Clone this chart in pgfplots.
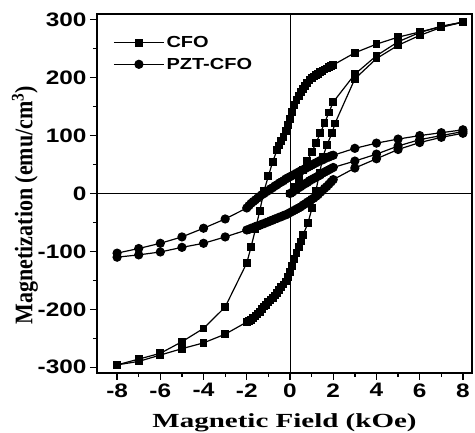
\documentclass[border=0pt]{standalone}
\usepackage{graphicx}
\usepackage{pgfplots}
\pgfplotsset{compat=1.18}
\usepackage{fontspec}
\setmainfont{Liberation Serif}
\newfontfamily\sansw{Liberation Sans}[FakeStretch=1.25]
\newfontfamily\serifw{Liberation Serif}[FakeStretch=1.45]

\begin{document}
\begin{tikzpicture}
\begin{axis}[
  scale only axis, width=375pt, height=359pt,
  xmin=-8.93, xmax=8.42, ymin=-310, ymax=310,
  axis line style={line width=1.5pt},
  xtick={-8,-6,...,8}, ytick={-300,-200,...,300},
  minor x tick num=1, minor y tick num=1,
  xtick pos=bottom, ytick pos=left, tick align=outside,
  major tick length=7pt, minor tick length=4pt,
  every tick/.style={black, line width=1.3pt},
  /pgf/number format/assume math mode=true,
  ticklabel style={font=\fontsize{19.5}{20}\selectfont\sansw\bfseries},
  xlabel={Magnetic Field (kOe)},
  xlabel style={font=\fontsize{20}{20}\selectfont\serifw\bfseries,
    at={(axis description cs:0.5,-0.153)}, anchor=base},
  ylabel={\scalebox{1}[1.15]{Magnetization (emu/cm\textsuperscript{3})}},
  ylabel style={font=\fontsize{22}{22}\selectfont\bfseries,
    at={(axis description cs:-0.192,0.468)}, anchor=center},
  legend style={draw=none, fill=none, at={(axis description cs:0.043,0.944)},
    anchor=north west, inner sep=0pt, row sep=5pt,
    font=\fontsize{16}{16}\selectfont\sansw\bfseries},
  legend cell align=left,
  legend image code/.code={\draw[mark repeat=2,mark phase=2,#1]
    plot coordinates {(0pt,0pt) (25pt,0pt) (50pt,0pt)};},
  sq/.style={black, line width=1.2pt, mark=square*, mark size=3.3pt, mark options={solid}},
  ci/.style={black, line width=1.2pt, mark=*, mark size=4pt, mark options={solid}},
]
\draw[line width=0.9pt] (axis cs:0,-310) -- (axis cs:0,310);
\draw[line width=0.9pt] (axis cs:-8.93,0) -- (axis cs:8.42,0);

% CFO, descending branch
\addplot[sq] coordinates {
 (8,296)(7,288)(6,279)(5,270)(4,258)(3,243)(2,222)
 (1.9,220)(1.8,218)(1.7,216)(1.6,214)(1.5,212)(1.4,210)(1.3,207)(1.2,205)(1.1,202)
 (1.0,199)(0.9,196)(0.8,191)(0.7,186)(0.6,180)(0.5,175)(0.4,169)(0.3,162)(0.2,153)
 (0.1,141)(0,128)(-0.1,118)(-0.2,108)(-0.3,98)(-0.4,91)(-0.5,83)(-0.6,75)
 (-0.8,55)(-1.0,30)(-1.2,5)(-1.4,-30)(-1.6,-62)(-1.8,-92)(-2.0,-120)
 (-3,-196)(-4,-233)(-5,-256)(-6,-276)(-7,-286)(-8,-296)};
% PZT-CFO, descending branch
\addplot[ci] coordinates {
 (8,110)(7,105)(6,100)(5,94)(4,87)(3,78)(2,66)
 (1.9,65)(1.8,63)(1.7,62)(1.6,60)(1.5,58)(1.4,57)(1.3,55)(1.2,53)(1.1,51)(1.0,49)
 (0.9,47)(0.8,45)(0.7,43)(0.6,41)(0.5,39)(0.4,37)(0.3,35)(0.2,33)(0.1,31)(0,29)
 (-0.1,27)(-0.2,25)(-0.3,22)(-0.4,20)(-0.5,18)(-0.6,15)(-0.7,13)(-0.8,10)(-0.9,8)
 (-1.0,5)(-1.1,3)(-1.2,0)(-1.3,-2)(-1.4,-5)(-1.5,-8)(-1.6,-11)(-1.7,-14)(-1.8,-17)
 (-1.9,-21)(-2.0,-25)(-3,-44)(-4,-60)(-5,-75)(-6,-86)(-7,-95)(-8,-103)};
\legend{CFO, PZT-CFO}

% CFO, ascending branch
\addplot[sq, forget plot] coordinates {
 (-8,-296)(-7,-290)(-6,-279)(-5,-268)(-4,-258)(-3,-243)(-2,-222)
 (-1.9,-220)(-1.8,-218)(-1.7,-215)(-1.6,-212)(-1.5,-208)(-1.4,-204)(-1.3,-199)
 (-1.2,-195)(-1.1,-192)(-1.0,-188)(-0.9,-184)(-0.8,-180)(-0.7,-176)(-0.6,-172)
 (-0.5,-167)(-0.4,-162)(-0.3,-157)(-0.2,-152)(-0.1,-144)(0,-136)(0.1,-125)
 (0.2,-113)(0.3,-103)(0.4,-93)(0.5,-83)(0.6,-72)
 (0.83,-51)(1.02,-25)(1.2,5)(1.37,36)(1.53,64)(1.71,84)(1.94,104)(2.08,121)
 (3,198)(4,233)(5,256)(6,273)(7,287)(8,296)};
% CFO, initial curve
\addplot[sq, forget plot] coordinates {
 (0,0)(0.2,12)(0.4,25)(0.6,40)(0.8,56)(1.0,71)(1.2,87)(1.4,104)(1.6,122)
 (1.8,140)(2.0,158)(3,206)(4,238)(5,262)(6,278)(7,289)(8,296)};

% PZT-CFO, ascending branch
\addplot[ci, forget plot] coordinates {
 (-8,-110)(-7,-106)(-6,-101)(-5,-93)(-4,-86)(-3,-75)(-2,-63)
 (-1.9,-62)(-1.8,-60)(-1.7,-59)(-1.6,-57)(-1.5,-56)(-1.4,-55)(-1.3,-53)(-1.2,-52)
 (-1.1,-50)(-1.0,-49)(-0.9,-47)(-0.8,-46)(-0.7,-44)(-0.6,-43)(-0.5,-41)(-0.4,-40)
 (-0.3,-38)(-0.2,-37)(-0.1,-35)(0,-33)(0.1,-31)(0.2,-29)(0.3,-27)(0.4,-25)
 (0.5,-23)(0.6,-20)(0.7,-18)(0.8,-15)(0.9,-13)(1.0,-10)(1.1,-8)(1.2,-5)(1.3,-2)
 (1.4,2)(1.5,5)(1.6,9)(1.7,12)(1.8,16)(1.9,20)(2.0,24)
 (3,44)(4,60)(5,76)(6,88)(7,97)(8,104)};
% PZT-CFO, initial curve
\addplot[ci, forget plot] coordinates {
 (0,0)(0.1,2)(0.2,5)(0.3,7)(0.4,10)(0.5,12)(0.6,15)(0.7,17)(0.8,19)(0.9,22)
 (1.0,24)(1.1,26)(1.2,28)(1.3,30)(1.4,32)(1.5,35)(1.6,37)(1.7,39)(1.8,41)
 (1.9,43)(2.0,45)(3,56)(4,68)(5,82)(6,93)(7,100)(8,107)};

\coordinate (bl) at (rel axis cs:0,0);
\coordinate (tr) at (rel axis cs:1,1);
\end{axis}
\pgfresetboundingbox
\path[use as bounding box] ([xshift=-97pt,yshift=-60pt]bl) rectangle ([xshift=3pt,yshift=14pt]tr);
\end{tikzpicture}
\end{document}
